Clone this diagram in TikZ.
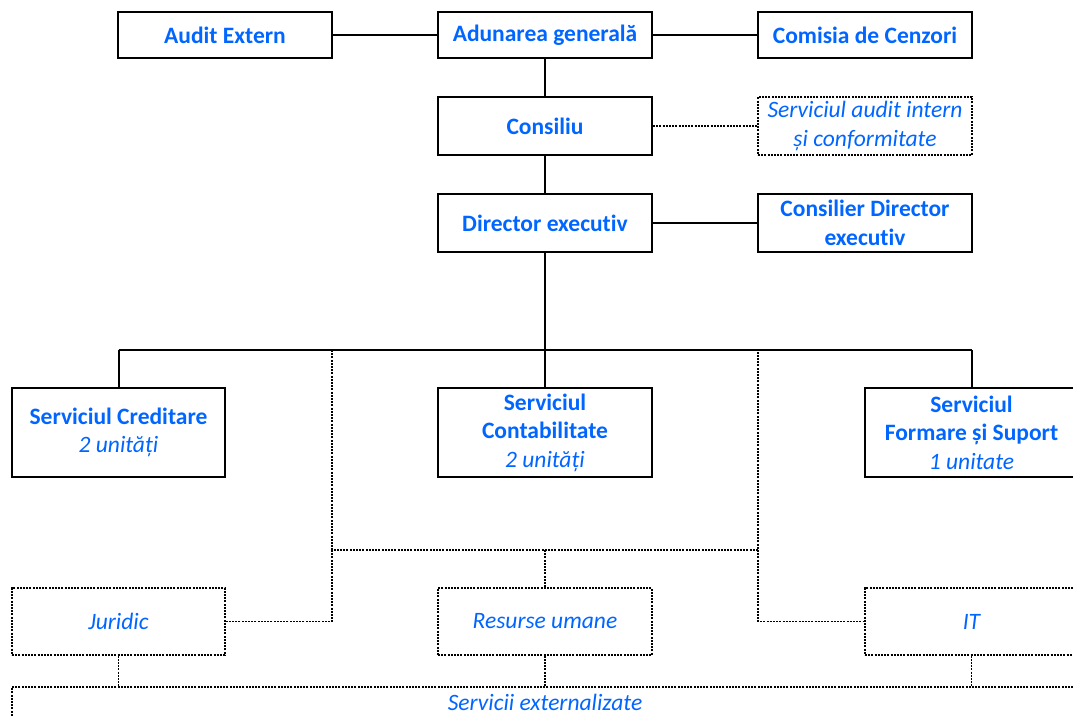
\documentclass[tikz,border=0pt]{standalone}
\usepackage{fontspec}
\setmainfont{Carlito}[Ligatures={NoCommon}]
\definecolor{txtblue}{RGB}{0,102,255}
\begin{document}
\begin{tikzpicture}[x=1pt,y=-1pt,
  solidbox/.style={draw=black,line width=2pt,fill=white,text=txtblue,align=center,inner sep=0pt,
    font=\fontsize{23.5}{28.5}\selectfont\bfseries},
  dotbox/.style={draw=black,line width=1.3pt,dash pattern=on 2pt off 1.2pt,fill=white,text=txtblue,align=center,inner sep=0pt,
    font=\fontsize{23.5}{28.5}\selectfont\itshape},
  sline/.style={draw=black,line width=2pt},
  dline/.style={draw=black,line width=1.3pt,dash pattern=on 2pt off 1.2pt}]
\useasboundingbox (0,0) rectangle (1073,715);
% nodes
\node[solidbox,minimum width=214pt,minimum height=46pt] (ae) at (225,35) {Audit Extern};
\node[solidbox,minimum width=214pt,minimum height=46pt] (ag) at (545,35) {Adunarea general\u{a}};
\node[solidbox,minimum width=214pt,minimum height=46pt] (cc) at (865,35) {Comisia de Cenzori};
\node[solidbox,minimum width=214pt,minimum height=58pt] (cons) at (545,126) {Consiliu};
\node[dotbox,minimum width=214pt,minimum height=58pt] (sai) at (865,126) {Serviciul audit intern\\ și conformitate};
\node[solidbox,minimum width=214pt,minimum height=58pt] (dir) at (545,223) {Director executiv};
\node[solidbox,minimum width=214pt,minimum height=58pt] (cde) at (865,223) {Consilier Director\\ executiv};
\node[solidbox,minimum width=213pt,minimum height=89pt] (sc) at (118.5,432.5) {Serviciul Creditare\\ {\mdseries\itshape 2 unități}};
\node[solidbox,minimum width=214pt,minimum height=89pt] (sct) at (545,432.5) {Serviciul\\ Contabilitate\\ {\mdseries\itshape 2 unități}};
\node[solidbox,minimum width=213pt,minimum height=89pt] (sf) at (971.5,432.5) {Serviciul\\ Formare și Suport\\ {\mdseries\itshape 1 unitate}};
\node[dotbox,minimum width=213pt,minimum height=67pt] (jur) at (118.5,621.5) {Juridic};
\node[dotbox,minimum width=214pt,minimum height=67pt] (ru) at (545,621.5) {Resurse umane};
\node[dotbox,minimum width=213pt,minimum height=67pt] (it) at (971.5,621.5) {IT};
\node[dotbox,minimum width=1066pt,minimum height=30pt] (se) at (545,702) {Servicii externalizate};
% coordinates
\coordinate (bl) at (118.5,350);
\coordinate (bm) at (545,350);
\coordinate (br) at (971.5,350);
\coordinate (dl) at (332,350);
\coordinate (dr) at (758,350);
\coordinate (ml) at (332,550);
\coordinate (mm) at (545,550);
\coordinate (mr) at (758,550);
% solid connectors
\draw[sline] (ae.east) -- (ag.west);
\draw[sline] (ag.east) -- (cc.west);
\draw[sline] (ag.south) -- (cons.north);
\draw[sline] (cons.south) -- (dir.north);
\draw[sline] (dir.east) -- (cde.west);
\draw[sline] (dir.south) -- (bm);
\draw[sline] (bl) -- (br);
\draw[sline] (bl) -- (sc.north);
\draw[sline] (bm) -- (sct.north);
\draw[sline] (br) -- (sf.north);
% dotted connectors
\draw[dline] (cons.east) -- (sai.west);
\draw[dline] (dl) -- (ml) -- (mr) -- (dr);
\draw[dline] (mm) -- (ru.north);
\draw[dline] (ml) |- (jur.east);
\draw[dline] (mr) |- (it.west);
\draw[dline] (jur.south) -- (jur.south |- se.north);
\draw[dline] (ru.south) -- (ru.south |- se.north);
\draw[dline] (it.south) -- (it.south |- se.north);
\end{tikzpicture}
\end{document}
